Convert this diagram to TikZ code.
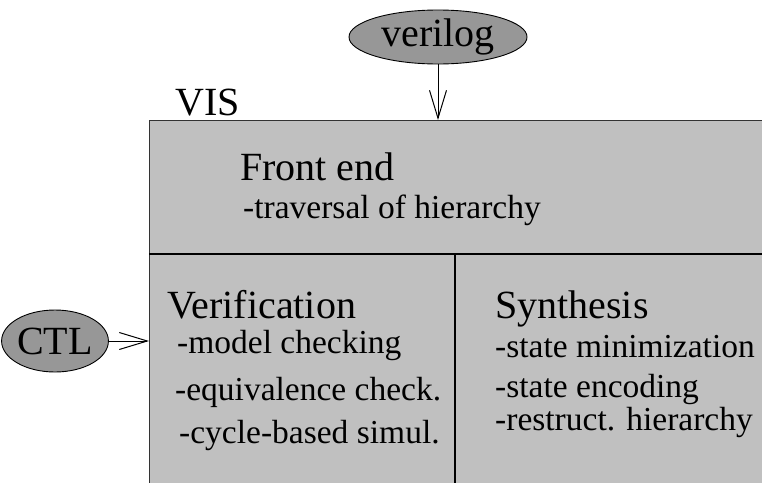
\documentclass[tikz,border=0pt]{standalone}
\usepackage{fontspec}
\setmainfont{Liberation Serif}
\newfontfamily\timesfont{Liberation Serif}
\usetikzlibrary{shapes.geometric,arrows.meta}
\definecolor{boxgray}{HTML}{C0C0C0}
\definecolor{ellgray}{HTML}{979797}
\tikzset{
  head/.style={anchor=base west,inner sep=0pt,font=\timesfont\fontsize{40}{40}\selectfont},
  item/.style={anchor=base west,inner sep=0pt,font=\timesfont\fontsize{33.5}{33.5}\selectfont},
  oval/.style={ellipse,draw=black,line width=0.9pt,fill=ellgray,inner sep=0pt,font=\timesfont\fontsize{40}{40}\selectfont},
  conn/.style={line width=1pt,-{Straight Barb[length=28pt,width=17pt,line width=1pt]}},
  divider/.style={line width=2.2pt,black}
}
\begin{document}
\begin{tikzpicture}[x=1pt,y=-1pt]
\useasboundingbox (0,0) rectangle (762,482);
\clip (0,0) rectangle (762,482);
% main box
\node[draw=black!80,line width=1.3pt,fill=boxgray,rectangle,inner sep=0pt,anchor=north west,minimum width=700pt,minimum height=420pt] (vis) at (149,120) {};
\coordinate (hl) at (149,254);
\coordinate (hr) at (800,254);
\coordinate (vt) at (455,254);
\coordinate (vb) at (455,500);
\draw[divider] (hl) -- (hr);
\draw[divider] (vt) -- (vb);
% ellipses
\node[oval,minimum width=178pt,minimum height=54pt] (verilog) at (438,37) {verilog};
\node[oval,minimum width=90pt,minimum height=62pt] (ctl) at (55,341) {CTL};
\draw[conn] (verilog.south) -- (verilog.south |- vis.north);
\draw[conn] (ctl.east) -- (ctl.east -| vis.west);
% texts
\node[head] (vislabel) at (175,115) {VIS};
\node[head] (fe) at (240,180) {Front end};
\node[item] (trav) at (243,218) {-traversal of hierarchy};
\node[head] (ver) at (167,318) {Verification};
\node[item] (mc) at (177,353) {-model checking};
\node[item] (eq) at (175,400) {-equivalence check.};
\node[item] (cyc) at (179,443) {-cycle-based simul.};
\node[head] (syn) at (495,318) {Synthesis};
\node[item] (smin) at (495,357) {-state minimization};
\node[item] (senc) at (495,397) {-state encoding};
\node[item] (rest) at (495,430) {-restruct. hierarchy};
\end{tikzpicture}
\end{document}
